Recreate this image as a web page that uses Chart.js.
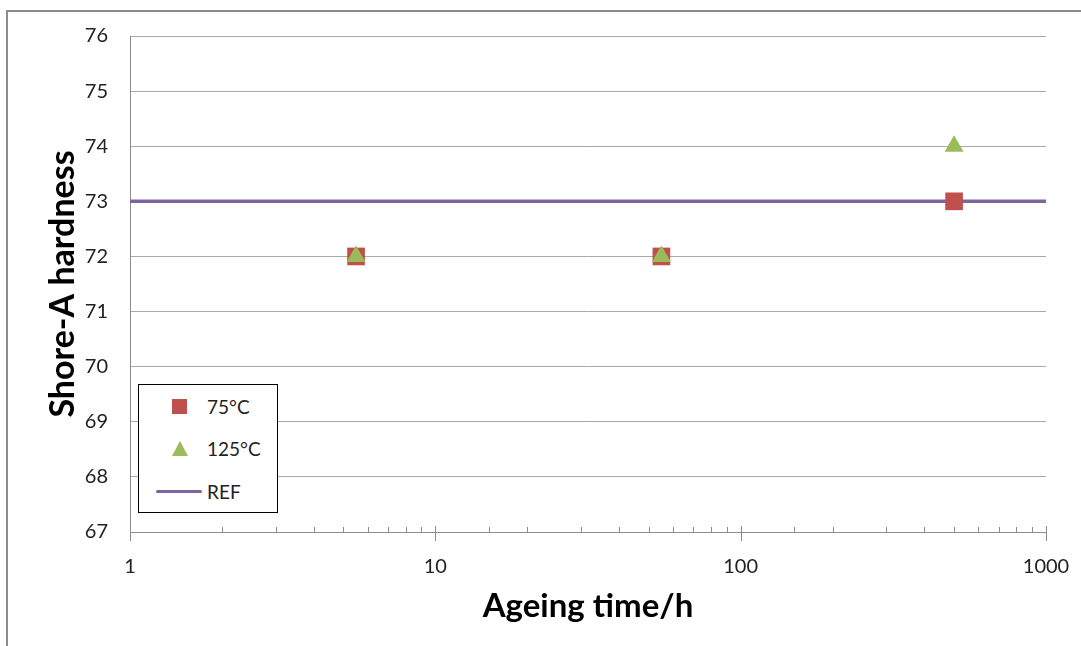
<!DOCTYPE html>
<html>
<head>
<meta charset="utf-8">
<script src="https://cdn.jsdelivr.net/npm/chart.js@4"></script>
<style>
    body { margin: 0; background: #fff; }
    #wrap { position: relative; width: 1081px; height: 646px; overflow: hidden; }
    #frame { position: absolute; left: 6px; top: 10px; right: 0; bottom: 0;
             border-left: 2px solid #8c8c8c; border-top: 2px solid #8c8c8c; }
    #chart { position: absolute; left: 0; top: 0; }
    #legend { position: absolute; left: 138px; top: 384px; width: 138px; height: 127px;
              border: 1px solid #000; background: #fff; font-family: Lato, sans-serif;
              font-size: 19px; color: #222; }
    .mark { position: absolute; }
    .lbl { position: absolute; left: 68px; line-height: 24px; }
</style>
</head>
<body>
<div id="wrap">
    <div id="frame"></div>
    <canvas id="chart" width="1081" height="646"></canvas>
    <div id="legend"></div>
</div>
<script>
// Ageing times (h) and Shore-A hardness readings
const ageingTimes = [5.5, 55, 500];
const hardness75 = [72, 72, 73];
const hardness125 = [72, 72, 74];
const refTimes = [1, 1000];
const refHardness = [73, 73];
const xMajorTicks = [1, 10, 100, 1000];

const COLOR_75 = '#C0504D';
const COLOR_125 = '#9BBB59';
const COLOR_REF = '#8064A2';
const FONT = 'Lato, "Open Sans", sans-serif';

// Function to zip x/y arrays into points
function toPoints(xs, ys) {
    return xs.map((x, i) => ({ x: x, y: ys[i] }));
}

// Log axis tick marks: majors cross the axis, minors point up into the plot
const xTickMarks = {
    id: 'xTickMarks',
    afterDraw(chart) {
        const scale = chart.scales.x;
        const ctx = chart.ctx;
        const y0 = scale.top;
        ctx.save();
        ctx.strokeStyle = '#8c8c8c';
        ctx.lineWidth = 1;
        scale.ticks.forEach(t => {
            const px = Math.round(scale.getPixelForValue(t.value)) + 0.5;
            const major = xMajorTicks.includes(t.value);
            ctx.beginPath();
            ctx.moveTo(px, y0 - (major ? 6 : 5));
            ctx.lineTo(px, y0 + (major ? 9 : 0));
            ctx.stroke();
        });
        ctx.restore();
    }
};

const chart = new Chart(document.getElementById('chart'), {
    type: 'scatter',
    data: {
        datasets: [
            {
                label: '75°C',
                data: toPoints(ageingTimes, hardness75),
                pointStyle: 'rect',
                pointRadius: 12.5,
                pointHoverRadius: 12.5,
                backgroundColor: COLOR_75,
                borderColor: COLOR_75,
                borderWidth: 0,
                order: 2
            },
            {
                label: '125°C',
                data: toPoints(ageingTimes, hardness125),
                pointStyle: 'triangle',
                pointRadius: 11,
                pointHoverRadius: 11,
                backgroundColor: COLOR_125,
                borderColor: COLOR_125,
                borderWidth: 0,
                order: 1
            },
            {
                label: 'REF',
                type: 'line',
                data: toPoints(refTimes, refHardness),
                borderColor: COLOR_REF,
                borderWidth: 3.5,
                pointRadius: 0,
                fill: false,
                order: 3
            }
        ]
    },
    options: {
        responsive: false,
        animation: false,
        layout: { padding: { top: 36, right: 35, left: 0, bottom: 0 } },
        plugins: { legend: { display: false }, tooltip: { enabled: false } },
        scales: {
            x: {
                type: 'logarithmic',
                min: 1,
                max: 1000,
                grid: { drawOnChartArea: false, drawTicks: false },
                border: { display: true, color: '#8c8c8c', width: 1 },
                afterFit(scale) {
                    scale.height = 114;
                    // keep the label overhang from shrinking the plot
                    scale.paddingLeft = 0;
                    scale.paddingRight = 0;
                },
                ticks: {
                    autoSkip: false,
                    maxRotation: 0,
                    padding: 23,
                    color: '#222',
                    font: { family: FONT, size: 20 },
                    callback: function(value) {
                        return xMajorTicks.includes(value) ? String(value) : '';
                    }
                },
                title: {
                    display: true,
                    text: 'Ageing time/h',
                    color: '#000',
                    font: { family: FONT, size: 33, weight: 'bold' },
                    padding: { top: 0, bottom: 20 }
                }
            },
            y: {
                min: 67,
                max: 76,
                grid: { color: '#a8a8a8', drawTicks: false },
                border: { display: true, color: '#8c8c8c', width: 1 },
                afterFit(scale) { scale.width = 130; },
                ticks: {
                    stepSize: 1,
                    padding: 22,
                    color: '#222',
                    font: { family: FONT, size: 20 }
                },
                title: {
                    display: true,
                    text: 'Shore-A hardness',
                    color: '#000',
                    font: { family: FONT, size: 34, weight: 'bold' },
                    padding: { top: 43, bottom: 0 }
                }
            }
        }
    },
    plugins: [xTickMarks]
});

// Build the boxed legend from the chart's datasets
function buildLegend() {
    const legend = document.getElementById('legend');
    const rows = [10, 52, 95];
    chart.data.datasets.forEach((ds, i) => {
        const mark = document.createElement('div');
        mark.className = 'mark';
        if (ds.pointStyle === 'rect') {
            mark.style.cssText = 'left:33px;top:' + (rows[i] + 4) + 'px;width:15px;height:15px;background:' + ds.backgroundColor;
        } else if (ds.pointStyle === 'triangle') {
            mark.style.cssText = 'left:33px;top:' + (rows[i] + 4) + 'px;width:0;height:0;border-left:8px solid transparent;border-right:8px solid transparent;border-bottom:15px solid ' + ds.backgroundColor;
        } else {
            mark.style.cssText = 'left:17px;top:' + (rows[i] + 10) + 'px;width:46px;height:3px;border-radius:2px;background:' + ds.borderColor;
        }
        const label = document.createElement('div');
        label.className = 'lbl';
        label.style.top = rows[i] + 'px';
        label.textContent = ds.label;
        legend.appendChild(mark);
        legend.appendChild(label);
    });
}

buildLegend();
</script>
</body>
</html>
